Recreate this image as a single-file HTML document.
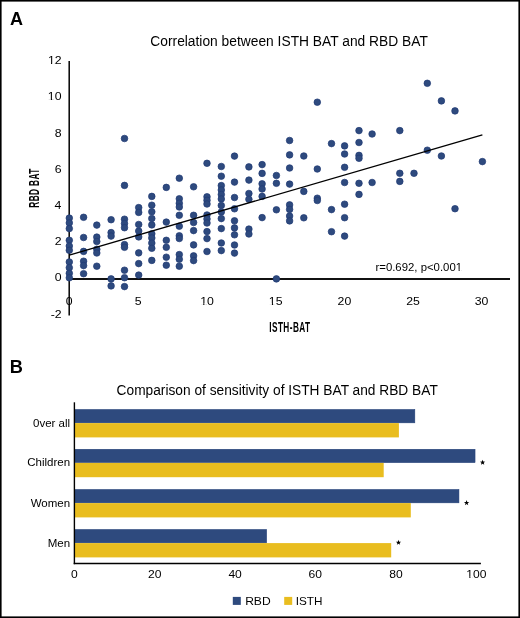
<!DOCTYPE html><html><head><meta charset="utf-8"><title>BAT figure</title><style>html,body{margin:0;padding:0;background:#fff;}svg{display:block;will-change:transform;}text{font-family:"Liberation Sans",sans-serif;}</style></head><body>
<svg width="520" height="618" viewBox="0 0 520 618">
<rect x="0" y="0" width="520" height="618" fill="#fff"/>
<rect x="0.8" y="0.8" width="518.4" height="616.4" fill="none" stroke="#000" stroke-width="1.6"/>
<text transform="translate(9.95 25.10) scale(1.0049 1)" font-size="17.97" font-weight="bold" fill="#000">A</text>
<text transform="translate(150.31 45.90) scale(0.9428 1)" font-size="14.64" fill="#000">Correlation between ISTH BAT and RBD BAT</text>
<text transform="translate(50.65 317.68) scale(1.0900 1)" font-size="11.30" fill="#000">-2</text>
<text transform="translate(54.66 281.46) scale(1.0900 1)" font-size="11.30" fill="#000">0</text>
<text transform="translate(54.78 245.24) scale(1.0900 1)" font-size="11.30" fill="#000">2</text>
<text transform="translate(54.53 209.02) scale(1.0900 1)" font-size="11.30" fill="#000">4</text>
<text transform="translate(54.72 172.80) scale(1.0900 1)" font-size="11.30" fill="#000">6</text>
<text transform="translate(54.66 136.58) scale(1.0900 1)" font-size="11.30" fill="#000">8</text>
<text transform="translate(47.82 100.36) scale(1.0900 1)" font-size="11.30" fill="#000">10</text><rect x="47.57" y="99.16" width="3.29" height="1.55" fill="#fff"/><rect x="52.07" y="99.16" width="2.28" height="1.55" fill="#fff"/>
<text transform="translate(47.94 64.14) scale(1.0900 1)" font-size="11.30" fill="#000">12</text><rect x="47.70" y="62.94" width="3.29" height="1.55" fill="#fff"/><rect x="52.19" y="62.94" width="2.28" height="1.55" fill="#fff"/>
<text transform="translate(65.68 304.56) scale(1.0900 1)" font-size="11.30" fill="#000">0</text>
<text transform="translate(134.68 304.56) scale(1.0900 1)" font-size="11.30" fill="#000">5</text>
<text transform="translate(200.15 304.56) scale(1.0900 1)" font-size="11.30" fill="#000">10</text><rect x="199.90" y="303.36" width="3.29" height="1.55" fill="#fff"/><rect x="204.40" y="303.36" width="2.28" height="1.55" fill="#fff"/>
<text transform="translate(268.85 304.56) scale(1.0900 1)" font-size="11.30" fill="#000">15</text><rect x="268.60" y="303.36" width="3.29" height="1.55" fill="#fff"/><rect x="273.10" y="303.36" width="2.28" height="1.55" fill="#fff"/>
<text transform="translate(337.55 304.56) scale(1.0900 1)" font-size="11.30" fill="#000">20</text>
<text transform="translate(406.20 304.56) scale(1.0900 1)" font-size="11.30" fill="#000">25</text>
<text transform="translate(474.76 304.56) scale(1.0900 1)" font-size="11.30" fill="#000">30</text>
<line x1="69.2" y1="61" x2="69.2" y2="315.5" stroke="#000" stroke-width="1.5"/>
<line x1="68.5" y1="279.0" x2="510" y2="279.0" stroke="#111" stroke-width="1.9"/>
<circle cx="69.3" cy="218.1" r="3.3" fill="#2e4a7e" stroke="#1f3a74" stroke-width="0.7"/>
<circle cx="69.3" cy="222.9" r="3.3" fill="#2e4a7e" stroke="#1f3a74" stroke-width="0.7"/>
<circle cx="69.3" cy="228.6" r="3.3" fill="#2e4a7e" stroke="#1f3a74" stroke-width="0.7"/>
<circle cx="69.3" cy="240.3" r="3.3" fill="#2e4a7e" stroke="#1f3a74" stroke-width="0.7"/>
<circle cx="69.3" cy="246.0" r="3.3" fill="#2e4a7e" stroke="#1f3a74" stroke-width="0.7"/>
<circle cx="69.3" cy="250.3" r="3.3" fill="#2e4a7e" stroke="#1f3a74" stroke-width="0.7"/>
<circle cx="69.3" cy="262.0" r="3.3" fill="#2e4a7e" stroke="#1f3a74" stroke-width="0.7"/>
<circle cx="69.3" cy="267.7" r="3.3" fill="#2e4a7e" stroke="#1f3a74" stroke-width="0.7"/>
<circle cx="69.3" cy="273.3" r="3.3" fill="#2e4a7e" stroke="#1f3a74" stroke-width="0.7"/>
<circle cx="69.3" cy="277.8" r="3.3" fill="#2e4a7e" stroke="#1f3a74" stroke-width="0.7"/>
<circle cx="83.6" cy="217.3" r="3.3" fill="#2e4a7e" stroke="#1f3a74" stroke-width="0.7"/>
<circle cx="83.6" cy="237.5" r="3.3" fill="#2e4a7e" stroke="#1f3a74" stroke-width="0.7"/>
<circle cx="83.6" cy="251.4" r="3.3" fill="#2e4a7e" stroke="#1f3a74" stroke-width="0.7"/>
<circle cx="83.6" cy="261.2" r="3.3" fill="#2e4a7e" stroke="#1f3a74" stroke-width="0.7"/>
<circle cx="83.6" cy="265.6" r="3.3" fill="#2e4a7e" stroke="#1f3a74" stroke-width="0.7"/>
<circle cx="83.6" cy="273.7" r="3.3" fill="#2e4a7e" stroke="#1f3a74" stroke-width="0.7"/>
<circle cx="96.8" cy="225.1" r="3.3" fill="#2e4a7e" stroke="#1f3a74" stroke-width="0.7"/>
<circle cx="96.8" cy="237.1" r="3.3" fill="#2e4a7e" stroke="#1f3a74" stroke-width="0.7"/>
<circle cx="96.8" cy="241.5" r="3.3" fill="#2e4a7e" stroke="#1f3a74" stroke-width="0.7"/>
<circle cx="96.8" cy="249.3" r="3.3" fill="#2e4a7e" stroke="#1f3a74" stroke-width="0.7"/>
<circle cx="96.8" cy="253.0" r="3.3" fill="#2e4a7e" stroke="#1f3a74" stroke-width="0.7"/>
<circle cx="96.8" cy="266.2" r="3.3" fill="#2e4a7e" stroke="#1f3a74" stroke-width="0.7"/>
<circle cx="111.1" cy="219.7" r="3.3" fill="#2e4a7e" stroke="#1f3a74" stroke-width="0.7"/>
<circle cx="111.1" cy="232.6" r="3.3" fill="#2e4a7e" stroke="#1f3a74" stroke-width="0.7"/>
<circle cx="111.1" cy="236.1" r="3.3" fill="#2e4a7e" stroke="#1f3a74" stroke-width="0.7"/>
<circle cx="111.1" cy="278.9" r="3.3" fill="#2e4a7e" stroke="#1f3a74" stroke-width="0.7"/>
<circle cx="111.1" cy="285.9" r="3.3" fill="#2e4a7e" stroke="#1f3a74" stroke-width="0.7"/>
<circle cx="124.5" cy="138.5" r="3.3" fill="#2e4a7e" stroke="#1f3a74" stroke-width="0.7"/>
<circle cx="124.5" cy="185.4" r="3.3" fill="#2e4a7e" stroke="#1f3a74" stroke-width="0.7"/>
<circle cx="124.5" cy="219.2" r="3.3" fill="#2e4a7e" stroke="#1f3a74" stroke-width="0.7"/>
<circle cx="124.5" cy="223.6" r="3.3" fill="#2e4a7e" stroke="#1f3a74" stroke-width="0.7"/>
<circle cx="124.5" cy="227.7" r="3.3" fill="#2e4a7e" stroke="#1f3a74" stroke-width="0.7"/>
<circle cx="124.5" cy="244.6" r="3.3" fill="#2e4a7e" stroke="#1f3a74" stroke-width="0.7"/>
<circle cx="124.5" cy="247.3" r="3.3" fill="#2e4a7e" stroke="#1f3a74" stroke-width="0.7"/>
<circle cx="124.5" cy="270.2" r="3.3" fill="#2e4a7e" stroke="#1f3a74" stroke-width="0.7"/>
<circle cx="124.5" cy="277.7" r="3.3" fill="#2e4a7e" stroke="#1f3a74" stroke-width="0.7"/>
<circle cx="124.5" cy="286.6" r="3.3" fill="#2e4a7e" stroke="#1f3a74" stroke-width="0.7"/>
<circle cx="138.7" cy="207.6" r="3.3" fill="#2e4a7e" stroke="#1f3a74" stroke-width="0.7"/>
<circle cx="138.7" cy="212.4" r="3.3" fill="#2e4a7e" stroke="#1f3a74" stroke-width="0.7"/>
<circle cx="138.7" cy="224.5" r="3.3" fill="#2e4a7e" stroke="#1f3a74" stroke-width="0.7"/>
<circle cx="138.7" cy="231.0" r="3.3" fill="#2e4a7e" stroke="#1f3a74" stroke-width="0.7"/>
<circle cx="138.7" cy="236.9" r="3.3" fill="#2e4a7e" stroke="#1f3a74" stroke-width="0.7"/>
<circle cx="138.7" cy="252.9" r="3.3" fill="#2e4a7e" stroke="#1f3a74" stroke-width="0.7"/>
<circle cx="138.7" cy="263.6" r="3.3" fill="#2e4a7e" stroke="#1f3a74" stroke-width="0.7"/>
<circle cx="138.7" cy="275.1" r="3.3" fill="#2e4a7e" stroke="#1f3a74" stroke-width="0.7"/>
<circle cx="151.8" cy="196.4" r="3.3" fill="#2e4a7e" stroke="#1f3a74" stroke-width="0.7"/>
<circle cx="151.8" cy="205.2" r="3.3" fill="#2e4a7e" stroke="#1f3a74" stroke-width="0.7"/>
<circle cx="151.8" cy="211.8" r="3.3" fill="#2e4a7e" stroke="#1f3a74" stroke-width="0.7"/>
<circle cx="151.8" cy="218.5" r="3.3" fill="#2e4a7e" stroke="#1f3a74" stroke-width="0.7"/>
<circle cx="151.8" cy="224.9" r="3.3" fill="#2e4a7e" stroke="#1f3a74" stroke-width="0.7"/>
<circle cx="151.8" cy="233.8" r="3.3" fill="#2e4a7e" stroke="#1f3a74" stroke-width="0.7"/>
<circle cx="151.8" cy="238.0" r="3.3" fill="#2e4a7e" stroke="#1f3a74" stroke-width="0.7"/>
<circle cx="151.8" cy="243.1" r="3.3" fill="#2e4a7e" stroke="#1f3a74" stroke-width="0.7"/>
<circle cx="151.8" cy="248.3" r="3.3" fill="#2e4a7e" stroke="#1f3a74" stroke-width="0.7"/>
<circle cx="151.8" cy="260.4" r="3.3" fill="#2e4a7e" stroke="#1f3a74" stroke-width="0.7"/>
<circle cx="166.3" cy="187.4" r="3.3" fill="#2e4a7e" stroke="#1f3a74" stroke-width="0.7"/>
<circle cx="166.3" cy="222.1" r="3.3" fill="#2e4a7e" stroke="#1f3a74" stroke-width="0.7"/>
<circle cx="166.3" cy="240.3" r="3.3" fill="#2e4a7e" stroke="#1f3a74" stroke-width="0.7"/>
<circle cx="166.3" cy="247.3" r="3.3" fill="#2e4a7e" stroke="#1f3a74" stroke-width="0.7"/>
<circle cx="166.3" cy="257.2" r="3.3" fill="#2e4a7e" stroke="#1f3a74" stroke-width="0.7"/>
<circle cx="166.3" cy="265.2" r="3.3" fill="#2e4a7e" stroke="#1f3a74" stroke-width="0.7"/>
<circle cx="179.3" cy="178.2" r="3.3" fill="#2e4a7e" stroke="#1f3a74" stroke-width="0.7"/>
<circle cx="179.3" cy="198.8" r="3.3" fill="#2e4a7e" stroke="#1f3a74" stroke-width="0.7"/>
<circle cx="179.3" cy="203.3" r="3.3" fill="#2e4a7e" stroke="#1f3a74" stroke-width="0.7"/>
<circle cx="179.3" cy="207.0" r="3.3" fill="#2e4a7e" stroke="#1f3a74" stroke-width="0.7"/>
<circle cx="179.3" cy="215.3" r="3.3" fill="#2e4a7e" stroke="#1f3a74" stroke-width="0.7"/>
<circle cx="179.3" cy="226.2" r="3.3" fill="#2e4a7e" stroke="#1f3a74" stroke-width="0.7"/>
<circle cx="179.3" cy="235.8" r="3.3" fill="#2e4a7e" stroke="#1f3a74" stroke-width="0.7"/>
<circle cx="179.3" cy="238.5" r="3.3" fill="#2e4a7e" stroke="#1f3a74" stroke-width="0.7"/>
<circle cx="179.3" cy="254.6" r="3.3" fill="#2e4a7e" stroke="#1f3a74" stroke-width="0.7"/>
<circle cx="179.3" cy="259.3" r="3.3" fill="#2e4a7e" stroke="#1f3a74" stroke-width="0.7"/>
<circle cx="179.3" cy="266.2" r="3.3" fill="#2e4a7e" stroke="#1f3a74" stroke-width="0.7"/>
<circle cx="193.6" cy="186.8" r="3.3" fill="#2e4a7e" stroke="#1f3a74" stroke-width="0.7"/>
<circle cx="193.6" cy="215.3" r="3.3" fill="#2e4a7e" stroke="#1f3a74" stroke-width="0.7"/>
<circle cx="193.6" cy="222.5" r="3.3" fill="#2e4a7e" stroke="#1f3a74" stroke-width="0.7"/>
<circle cx="193.6" cy="230.6" r="3.3" fill="#2e4a7e" stroke="#1f3a74" stroke-width="0.7"/>
<circle cx="193.6" cy="244.9" r="3.3" fill="#2e4a7e" stroke="#1f3a74" stroke-width="0.7"/>
<circle cx="193.6" cy="255.9" r="3.3" fill="#2e4a7e" stroke="#1f3a74" stroke-width="0.7"/>
<circle cx="193.6" cy="260.6" r="3.3" fill="#2e4a7e" stroke="#1f3a74" stroke-width="0.7"/>
<circle cx="207.0" cy="163.3" r="3.3" fill="#2e4a7e" stroke="#1f3a74" stroke-width="0.7"/>
<circle cx="207.0" cy="196.8" r="3.3" fill="#2e4a7e" stroke="#1f3a74" stroke-width="0.7"/>
<circle cx="207.0" cy="200.3" r="3.3" fill="#2e4a7e" stroke="#1f3a74" stroke-width="0.7"/>
<circle cx="207.0" cy="204.0" r="3.3" fill="#2e4a7e" stroke="#1f3a74" stroke-width="0.7"/>
<circle cx="207.0" cy="215.0" r="3.3" fill="#2e4a7e" stroke="#1f3a74" stroke-width="0.7"/>
<circle cx="207.0" cy="219.0" r="3.3" fill="#2e4a7e" stroke="#1f3a74" stroke-width="0.7"/>
<circle cx="207.0" cy="223.0" r="3.3" fill="#2e4a7e" stroke="#1f3a74" stroke-width="0.7"/>
<circle cx="207.0" cy="231.6" r="3.3" fill="#2e4a7e" stroke="#1f3a74" stroke-width="0.7"/>
<circle cx="207.0" cy="238.6" r="3.3" fill="#2e4a7e" stroke="#1f3a74" stroke-width="0.7"/>
<circle cx="207.0" cy="251.5" r="3.3" fill="#2e4a7e" stroke="#1f3a74" stroke-width="0.7"/>
<circle cx="221.3" cy="166.5" r="3.3" fill="#2e4a7e" stroke="#1f3a74" stroke-width="0.7"/>
<circle cx="221.3" cy="176.2" r="3.3" fill="#2e4a7e" stroke="#1f3a74" stroke-width="0.7"/>
<circle cx="221.3" cy="185.6" r="3.3" fill="#2e4a7e" stroke="#1f3a74" stroke-width="0.7"/>
<circle cx="221.3" cy="190.0" r="3.3" fill="#2e4a7e" stroke="#1f3a74" stroke-width="0.7"/>
<circle cx="221.3" cy="194.5" r="3.3" fill="#2e4a7e" stroke="#1f3a74" stroke-width="0.7"/>
<circle cx="221.3" cy="199.0" r="3.3" fill="#2e4a7e" stroke="#1f3a74" stroke-width="0.7"/>
<circle cx="221.3" cy="205.5" r="3.3" fill="#2e4a7e" stroke="#1f3a74" stroke-width="0.7"/>
<circle cx="221.3" cy="212.0" r="3.3" fill="#2e4a7e" stroke="#1f3a74" stroke-width="0.7"/>
<circle cx="221.3" cy="218.6" r="3.3" fill="#2e4a7e" stroke="#1f3a74" stroke-width="0.7"/>
<circle cx="221.3" cy="228.6" r="3.3" fill="#2e4a7e" stroke="#1f3a74" stroke-width="0.7"/>
<circle cx="221.3" cy="243.0" r="3.3" fill="#2e4a7e" stroke="#1f3a74" stroke-width="0.7"/>
<circle cx="221.3" cy="250.6" r="3.3" fill="#2e4a7e" stroke="#1f3a74" stroke-width="0.7"/>
<circle cx="234.5" cy="156.1" r="3.3" fill="#2e4a7e" stroke="#1f3a74" stroke-width="0.7"/>
<circle cx="234.5" cy="182.1" r="3.3" fill="#2e4a7e" stroke="#1f3a74" stroke-width="0.7"/>
<circle cx="234.5" cy="197.5" r="3.3" fill="#2e4a7e" stroke="#1f3a74" stroke-width="0.7"/>
<circle cx="234.5" cy="208.8" r="3.3" fill="#2e4a7e" stroke="#1f3a74" stroke-width="0.7"/>
<circle cx="234.5" cy="220.8" r="3.3" fill="#2e4a7e" stroke="#1f3a74" stroke-width="0.7"/>
<circle cx="234.5" cy="227.9" r="3.3" fill="#2e4a7e" stroke="#1f3a74" stroke-width="0.7"/>
<circle cx="234.5" cy="234.8" r="3.3" fill="#2e4a7e" stroke="#1f3a74" stroke-width="0.7"/>
<circle cx="234.5" cy="245.0" r="3.3" fill="#2e4a7e" stroke="#1f3a74" stroke-width="0.7"/>
<circle cx="234.5" cy="253.1" r="3.3" fill="#2e4a7e" stroke="#1f3a74" stroke-width="0.7"/>
<circle cx="248.9" cy="166.9" r="3.3" fill="#2e4a7e" stroke="#1f3a74" stroke-width="0.7"/>
<circle cx="248.9" cy="180.1" r="3.3" fill="#2e4a7e" stroke="#1f3a74" stroke-width="0.7"/>
<circle cx="248.9" cy="193.5" r="3.3" fill="#2e4a7e" stroke="#1f3a74" stroke-width="0.7"/>
<circle cx="248.9" cy="199.3" r="3.3" fill="#2e4a7e" stroke="#1f3a74" stroke-width="0.7"/>
<circle cx="248.9" cy="229.1" r="3.3" fill="#2e4a7e" stroke="#1f3a74" stroke-width="0.7"/>
<circle cx="248.9" cy="234.0" r="3.3" fill="#2e4a7e" stroke="#1f3a74" stroke-width="0.7"/>
<circle cx="262.1" cy="164.6" r="3.3" fill="#2e4a7e" stroke="#1f3a74" stroke-width="0.7"/>
<circle cx="262.1" cy="173.4" r="3.3" fill="#2e4a7e" stroke="#1f3a74" stroke-width="0.7"/>
<circle cx="262.1" cy="183.8" r="3.3" fill="#2e4a7e" stroke="#1f3a74" stroke-width="0.7"/>
<circle cx="262.1" cy="189.0" r="3.3" fill="#2e4a7e" stroke="#1f3a74" stroke-width="0.7"/>
<circle cx="262.1" cy="196.4" r="3.3" fill="#2e4a7e" stroke="#1f3a74" stroke-width="0.7"/>
<circle cx="262.1" cy="217.6" r="3.3" fill="#2e4a7e" stroke="#1f3a74" stroke-width="0.7"/>
<circle cx="276.4" cy="175.5" r="3.3" fill="#2e4a7e" stroke="#1f3a74" stroke-width="0.7"/>
<circle cx="276.4" cy="183.3" r="3.3" fill="#2e4a7e" stroke="#1f3a74" stroke-width="0.7"/>
<circle cx="276.4" cy="209.8" r="3.3" fill="#2e4a7e" stroke="#1f3a74" stroke-width="0.7"/>
<circle cx="276.4" cy="278.9" r="3.3" fill="#2e4a7e" stroke="#1f3a74" stroke-width="0.7"/>
<circle cx="289.6" cy="140.5" r="3.3" fill="#2e4a7e" stroke="#1f3a74" stroke-width="0.7"/>
<circle cx="289.6" cy="154.9" r="3.3" fill="#2e4a7e" stroke="#1f3a74" stroke-width="0.7"/>
<circle cx="289.6" cy="168.0" r="3.3" fill="#2e4a7e" stroke="#1f3a74" stroke-width="0.7"/>
<circle cx="289.6" cy="184.1" r="3.3" fill="#2e4a7e" stroke="#1f3a74" stroke-width="0.7"/>
<circle cx="289.6" cy="204.9" r="3.3" fill="#2e4a7e" stroke="#1f3a74" stroke-width="0.7"/>
<circle cx="289.6" cy="209.4" r="3.3" fill="#2e4a7e" stroke="#1f3a74" stroke-width="0.7"/>
<circle cx="289.6" cy="216.0" r="3.3" fill="#2e4a7e" stroke="#1f3a74" stroke-width="0.7"/>
<circle cx="289.6" cy="220.9" r="3.3" fill="#2e4a7e" stroke="#1f3a74" stroke-width="0.7"/>
<circle cx="303.8" cy="156.0" r="3.3" fill="#2e4a7e" stroke="#1f3a74" stroke-width="0.7"/>
<circle cx="303.8" cy="191.4" r="3.3" fill="#2e4a7e" stroke="#1f3a74" stroke-width="0.7"/>
<circle cx="303.8" cy="217.8" r="3.3" fill="#2e4a7e" stroke="#1f3a74" stroke-width="0.7"/>
<circle cx="317.3" cy="102.2" r="3.3" fill="#2e4a7e" stroke="#1f3a74" stroke-width="0.7"/>
<circle cx="317.3" cy="169.0" r="3.3" fill="#2e4a7e" stroke="#1f3a74" stroke-width="0.7"/>
<circle cx="317.3" cy="198.2" r="3.3" fill="#2e4a7e" stroke="#1f3a74" stroke-width="0.7"/>
<circle cx="317.3" cy="200.5" r="3.3" fill="#2e4a7e" stroke="#1f3a74" stroke-width="0.7"/>
<circle cx="331.5" cy="143.6" r="3.3" fill="#2e4a7e" stroke="#1f3a74" stroke-width="0.7"/>
<circle cx="331.5" cy="209.6" r="3.3" fill="#2e4a7e" stroke="#1f3a74" stroke-width="0.7"/>
<circle cx="331.5" cy="231.7" r="3.3" fill="#2e4a7e" stroke="#1f3a74" stroke-width="0.7"/>
<circle cx="344.6" cy="145.9" r="3.3" fill="#2e4a7e" stroke="#1f3a74" stroke-width="0.7"/>
<circle cx="344.6" cy="154.0" r="3.3" fill="#2e4a7e" stroke="#1f3a74" stroke-width="0.7"/>
<circle cx="344.6" cy="167.3" r="3.3" fill="#2e4a7e" stroke="#1f3a74" stroke-width="0.7"/>
<circle cx="344.6" cy="182.5" r="3.3" fill="#2e4a7e" stroke="#1f3a74" stroke-width="0.7"/>
<circle cx="344.6" cy="204.2" r="3.3" fill="#2e4a7e" stroke="#1f3a74" stroke-width="0.7"/>
<circle cx="344.6" cy="217.7" r="3.3" fill="#2e4a7e" stroke="#1f3a74" stroke-width="0.7"/>
<circle cx="344.6" cy="236.1" r="3.3" fill="#2e4a7e" stroke="#1f3a74" stroke-width="0.7"/>
<circle cx="359.0" cy="130.6" r="3.3" fill="#2e4a7e" stroke="#1f3a74" stroke-width="0.7"/>
<circle cx="359.0" cy="142.5" r="3.3" fill="#2e4a7e" stroke="#1f3a74" stroke-width="0.7"/>
<circle cx="359.0" cy="155.4" r="3.3" fill="#2e4a7e" stroke="#1f3a74" stroke-width="0.7"/>
<circle cx="359.0" cy="158.3" r="3.3" fill="#2e4a7e" stroke="#1f3a74" stroke-width="0.7"/>
<circle cx="359.0" cy="183.3" r="3.3" fill="#2e4a7e" stroke="#1f3a74" stroke-width="0.7"/>
<circle cx="359.0" cy="194.4" r="3.3" fill="#2e4a7e" stroke="#1f3a74" stroke-width="0.7"/>
<circle cx="372.1" cy="134.0" r="3.3" fill="#2e4a7e" stroke="#1f3a74" stroke-width="0.7"/>
<circle cx="372.1" cy="182.5" r="3.3" fill="#2e4a7e" stroke="#1f3a74" stroke-width="0.7"/>
<circle cx="399.8" cy="130.6" r="3.3" fill="#2e4a7e" stroke="#1f3a74" stroke-width="0.7"/>
<circle cx="399.8" cy="173.3" r="3.3" fill="#2e4a7e" stroke="#1f3a74" stroke-width="0.7"/>
<circle cx="399.8" cy="181.4" r="3.3" fill="#2e4a7e" stroke="#1f3a74" stroke-width="0.7"/>
<circle cx="414.0" cy="173.3" r="3.3" fill="#2e4a7e" stroke="#1f3a74" stroke-width="0.7"/>
<circle cx="427.3" cy="83.3" r="3.3" fill="#2e4a7e" stroke="#1f3a74" stroke-width="0.7"/>
<circle cx="427.3" cy="150.2" r="3.3" fill="#2e4a7e" stroke="#1f3a74" stroke-width="0.7"/>
<circle cx="441.4" cy="100.9" r="3.3" fill="#2e4a7e" stroke="#1f3a74" stroke-width="0.7"/>
<circle cx="441.4" cy="156.0" r="3.3" fill="#2e4a7e" stroke="#1f3a74" stroke-width="0.7"/>
<circle cx="455.0" cy="110.9" r="3.3" fill="#2e4a7e" stroke="#1f3a74" stroke-width="0.7"/>
<circle cx="455.0" cy="208.7" r="3.3" fill="#2e4a7e" stroke="#1f3a74" stroke-width="0.7"/>
<circle cx="482.4" cy="161.6" r="3.3" fill="#2e4a7e" stroke="#1f3a74" stroke-width="0.7"/>
<line x1="69.3" y1="255.1" x2="482.4" y2="134.8" stroke="#000" stroke-width="1.3"/>
<text transform="translate(375.46 270.90) scale(1.0207 1)" font-size="11.14" fill="#000">r=0.692, p&lt;0.001</text><rect x="455.55" y="269.71" width="3.04" height="1.54" fill="#fff"/><rect x="459.70" y="269.71" width="2.10" height="1.54" fill="#fff"/>
<text transform="translate(269.26 331.9) scale(0.575 1)" font-size="14.35" font-weight="bold" letter-spacing="0.732" fill="#000">ISTH-BAT</text>
<text transform="rotate(-90) translate(-207.64 39.1) scale(0.5600 1)" font-size="14.8" font-weight="bold" letter-spacing="0.669" fill="#000">RBD BAT</text>
<text transform="translate(9.82 373.30) scale(0.9886 1)" font-size="18.41" font-weight="bold" fill="#000">B</text>
<text transform="translate(116.61 394.50) scale(0.9478 1)" font-size="14.49" fill="#000">Comparison of sensitivity of ISTH BAT and RBD BAT</text>
<rect x="74.4" y="409.45" width="340.45" height="13.4" fill="#2e4a7e" stroke="#223f78" stroke-width="0.5"/>
<rect x="74.2" y="423.1" width="324.7" height="14.3" fill="#e9bd1f"/>
<text transform="translate(33.02 426.90) scale(1.0000 1)" font-size="11.50" fill="#000">0ver all</text>
<rect x="74.4" y="449.25" width="400.65" height="13.4" fill="#2e4a7e" stroke="#223f78" stroke-width="0.5"/>
<rect x="74.2" y="462.9" width="309.5" height="14.3" fill="#e9bd1f"/>
<text transform="translate(27.21 466.40) scale(1.0000 1)" font-size="11.50" fill="#000">Children</text>
<polygon points="482.60,459.70 483.28,461.57 485.26,461.63 483.69,462.86 484.25,464.77 482.60,463.65 480.95,464.77 481.51,462.86 479.94,461.63 481.92,461.57" fill="#000"/>
<rect x="74.4" y="489.45" width="384.55" height="13.4" fill="#2e4a7e" stroke="#223f78" stroke-width="0.5"/>
<rect x="74.2" y="503.1" width="336.6" height="14.3" fill="#e9bd1f"/>
<text transform="translate(30.66 506.90) scale(1.0000 1)" font-size="11.50" fill="#000">Women</text>
<polygon points="466.60,500.10 467.28,501.97 469.26,502.03 467.69,503.26 468.25,505.17 466.60,504.05 464.95,505.17 465.51,503.26 463.94,502.03 465.92,501.97" fill="#000"/>
<rect x="74.4" y="529.45" width="192.25" height="13.4" fill="#2e4a7e" stroke="#223f78" stroke-width="0.5"/>
<rect x="74.2" y="543.1" width="317.0" height="14.3" fill="#e9bd1f"/>
<text transform="translate(47.68 546.90) scale(1.0000 1)" font-size="11.50" fill="#000">Men</text>
<polygon points="398.50,539.80 399.18,541.67 401.16,541.73 399.59,542.96 400.15,544.87 398.50,543.75 396.85,544.87 397.41,542.96 395.84,541.73 397.82,541.67" fill="#000"/>
<line x1="74.4" y1="402.3" x2="74.4" y2="564.2" stroke="#000" stroke-width="1.4"/>
<line x1="73.7" y1="563.5" x2="480.9" y2="563.5" stroke="#000" stroke-width="1.6"/>
<text transform="translate(71.09 577.80) scale(1.0900 1)" font-size="11.10" fill="#000">0</text>
<text transform="translate(148.07 577.80) scale(1.0900 1)" font-size="11.10" fill="#000">20</text>
<text transform="translate(228.38 577.80) scale(1.0900 1)" font-size="11.10" fill="#000">40</text>
<text transform="translate(308.62 577.80) scale(1.0900 1)" font-size="11.10" fill="#000">60</text>
<text transform="translate(389.20 577.80) scale(1.0900 1)" font-size="11.10" fill="#000">80</text>
<text transform="translate(466.32 577.80) scale(1.0900 1)" font-size="11.10" fill="#000">100</text><rect x="466.07" y="576.62" width="3.23" height="1.53" fill="#fff"/><rect x="470.49" y="576.62" width="2.24" height="1.53" fill="#fff"/>
<rect x="232.8" y="596.9" width="8" height="8" fill="#2e4a7e"/>
<text transform="translate(245.13 604.60) scale(1.0299 1)" font-size="11.74" fill="#000">RBD</text>
<rect x="284.2" y="596.9" width="8" height="8" fill="#e9bd1f"/>
<text transform="translate(295.74 604.60) scale(0.9996 1)" font-size="11.74" fill="#000">ISTH</text>
</svg></body></html>
